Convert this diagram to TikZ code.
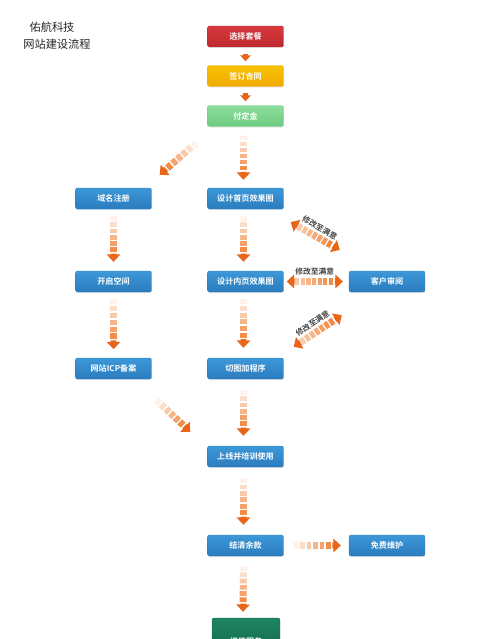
\documentclass[tikz,border=0pt]{standalone}
\usepackage{fontspec}
\usepackage{tikz}
\usetikzlibrary{arrows.meta}
\usetikzlibrary{calc,shadows}
\newfontfamily\cjk{Noto Sans CJK SC}[BoldFont={Noto Sans CJK SC Bold}]
\definecolor{arroworange}{HTML}{F07A2A}
\definecolor{headorange}{HTML}{E8661A}
\definecolor{boxblue}{HTML}{3D98D8}
\definecolor{boxbluedark}{HTML}{2A7CBE}
\definecolor{planred}{HTML}{D8383C}
\definecolor{planreddark}{HTML}{BC2A30}
\definecolor{signyellow}{HTML}{F8C200}
\definecolor{signyellowdark}{HTML}{EFAA00}
\definecolor{paygreen}{HTML}{8EDD9C}
\definecolor{paygreendark}{HTML}{6CCB80}
\definecolor{extragreen}{HTML}{1F8462}
\definecolor{extragreendark}{HTML}{0F6445}

% gradient arrow, light tail to dark head
\newcommand{\fadearrow}[2]{%
  \coordinate (fa-s) at #1;
  \coordinate (fa-e) at #2;
  \foreach \k in {0,...,5}{%
    \pgfmathtruncatemacro\shade{10+\k*15}%
    \draw[fadeseg, draw=arroworange!\shade!white] ($(fa-s)!{\k/7.3}!(fa-e)$) -- ($(fa-s)!{(\k+0.75)/7.3}!(fa-e)$);
  }
  \draw[fadehead] ($(fa-s)!{6/7.3}!(fa-e)$) -- (fa-e);
}
% two headed arrow
\newcommand{\twoarrow}[2]{%
  \coordinate (ta-s) at #1;
  \coordinate (ta-e) at #2;
  \draw[fadehead] ($(ta-s)!0.14!(ta-e)$) -- (ta-s);
  \foreach \k in {0,...,6}{%
    \pgfmathtruncatemacro\shade{40+\k*8}%
    \draw[fadeseg, draw=arroworange!\shade!white] ($(ta-s)!{0.15+\k*0.1}!(ta-e)$) -- ($(ta-s)!{0.15+\k*0.1+0.075}!(ta-e)$);
  }
  \draw[fadehead] ($(ta-s)!0.86!(ta-e)$) -- (ta-e);
}

\begin{document}
\begin{tikzpicture}[x=0.02cm, y=-0.02cm,
    box/.style={rectangle, rounded corners=1.2pt, minimum width=1.52cm, minimum height=0.42cm,
        inner sep=0pt, text=white, font=\cjk\bfseries\fontsize{4.6}{5}\selectfont, line width=0.2pt,
        drop shadow={shadow xshift=0.2pt, shadow yshift=-0.6pt, opacity=0.18}},
    bluebox/.style={box, top color=boxblue, bottom color=boxbluedark, draw=boxbluedark},
    redbox/.style={box, top color=planred, bottom color=planreddark, draw=planreddark},
    yellowbox/.style={box, top color=signyellow, bottom color=signyellowdark, draw=signyellowdark},
    greenbox/.style={box, top color=paygreen, bottom color=paygreendark, draw=paygreendark},
    darkbox/.style={box, minimum width=1.36cm, minimum height=0.92cm, top color=extragreen, bottom color=extragreendark, draw=extragreendark},
    titletext/.style={font=\cjk\fontsize{6.4}{7}\selectfont, text=black!85},
    notelabel/.style={font=\cjk\bfseries\fontsize{4.4}{5}\selectfont, text=black!75, inner sep=0.5pt},
    fadeseg/.style={line width=4pt},
    fadehead/.style={draw=headorange, line width=3.2pt, -{Triangle[width=7.6pt,length=4.2pt]}},
    smallarrow/.style={draw=headorange, line width=2.4pt, -{Triangle[width=6pt,length=3.4pt]}, shorten <=0.13cm, shorten >=0.08cm}]

    \useasboundingbox (0,0) rectangle (500,639);
    \clip (0,0) rectangle (500,639);

    % title
    \node[titletext] (title1) at (52,27) {佑航科技};
    \node[titletext] (title2) at (57,44) {网站建设流程};

    % top column
    \node[redbox] (plan) at (245.5,36.5) {选择套餐};
    \node[yellowbox] (contract) at (245.5,76) {签订合同};
    \node[greenbox] (deposit) at (245.5,116) {付定金};

    \draw[smallarrow] (plan) -- (contract);
    \draw[smallarrow] (contract) -- (deposit);

    % blue boxes
    \node[bluebox] (domain) at (113.5,198.5) {域名注册};
    \node[bluebox] (home) at (245.5,198.5) {设计首页效果图};
    \node[bluebox] (space) at (113.5,281.5) {开启空间};
    \node[bluebox] (inner) at (245.5,281.5) {设计内页效果图};
    \node[bluebox] (review) at (387,281.5) {客户审阅};
    \node[bluebox] (icp) at (113.5,368.5) {网站ICP备案};
    \node[bluebox] (code) at (245.5,368.5) {切图加程序};
    \node[bluebox] (online) at (245.5,456.5) {上线并培训使用};
    \node[bluebox] (settle) at (245.5,545.5) {结清余款};
    \node[bluebox] (maint) at (387,545.5) {免费维护};
    \node[darkbox] (extra) at (246,641) {增值服务};

    % Deposit to design and domain
    \fadearrow{($(deposit.south)+(-2,9)$)}{($(home.north)+(-2,-8)$)}
    \fadearrow{($(deposit.south west)+(-11,16)$)}{($(domain.north east)+(8,-13)$)}

    % Left column
    \fadearrow{($(domain.south)+(0,7)$)}{($(space.north)+(0,-9)$)}
    \fadearrow{($(space.south)+(0,7)$)}{($(icp.south)+(0,-30)$)}
    \fadearrow{($(icp.south east)+(5,21)$)}{($(online.north west)+(-17,-14)$)}

    % Middle column
    \fadearrow{($(home.south)+(-2,7)$)}{($(inner.north)+(-2,-9)$)}
    \fadearrow{($(inner.south)+(-2,7)$)}{($(code.north)+(-2,-10)$)}
    \fadearrow{($(code.south)+(-2,11)$)}{($(online.north)+(-2,-10)$)}
    \fadearrow{($(online.south)+(-2,11)$)}{($(settle.north)+(-2,-10)$)}
    \fadearrow{($(settle.east)+(10,0)$)}{($(maint.west)+(-8,0)$)}
    \fadearrow{($(settle.south)+(-2,10)$)}{($(extra.north)+(-3,-6)$)}

    % Review loops
    \twoarrow{($(home.south east)+(7,13)$)}{($(review.north west)+(-9,-21)$)}
    \path (ta-s) -- node[notelabel, sloped, above=2.5pt] (fix1) {修改至满意} (ta-e);
    \twoarrow{($(inner.east)+(3,0)$)}{($(review.west)+(-6,0)$)}
    \path (ta-s) -- node[notelabel, above=3pt] (fix2) {修改至满意} (ta-e);
    \twoarrow{($(code.north east)+(10,-11)$)}{($(review.south west)+(-7,23)$)}
    \path (ta-s) -- node[notelabel, sloped, above=2.5pt] (fix3) {修改至满意} (ta-e);

\end{tikzpicture}
\end{document}
